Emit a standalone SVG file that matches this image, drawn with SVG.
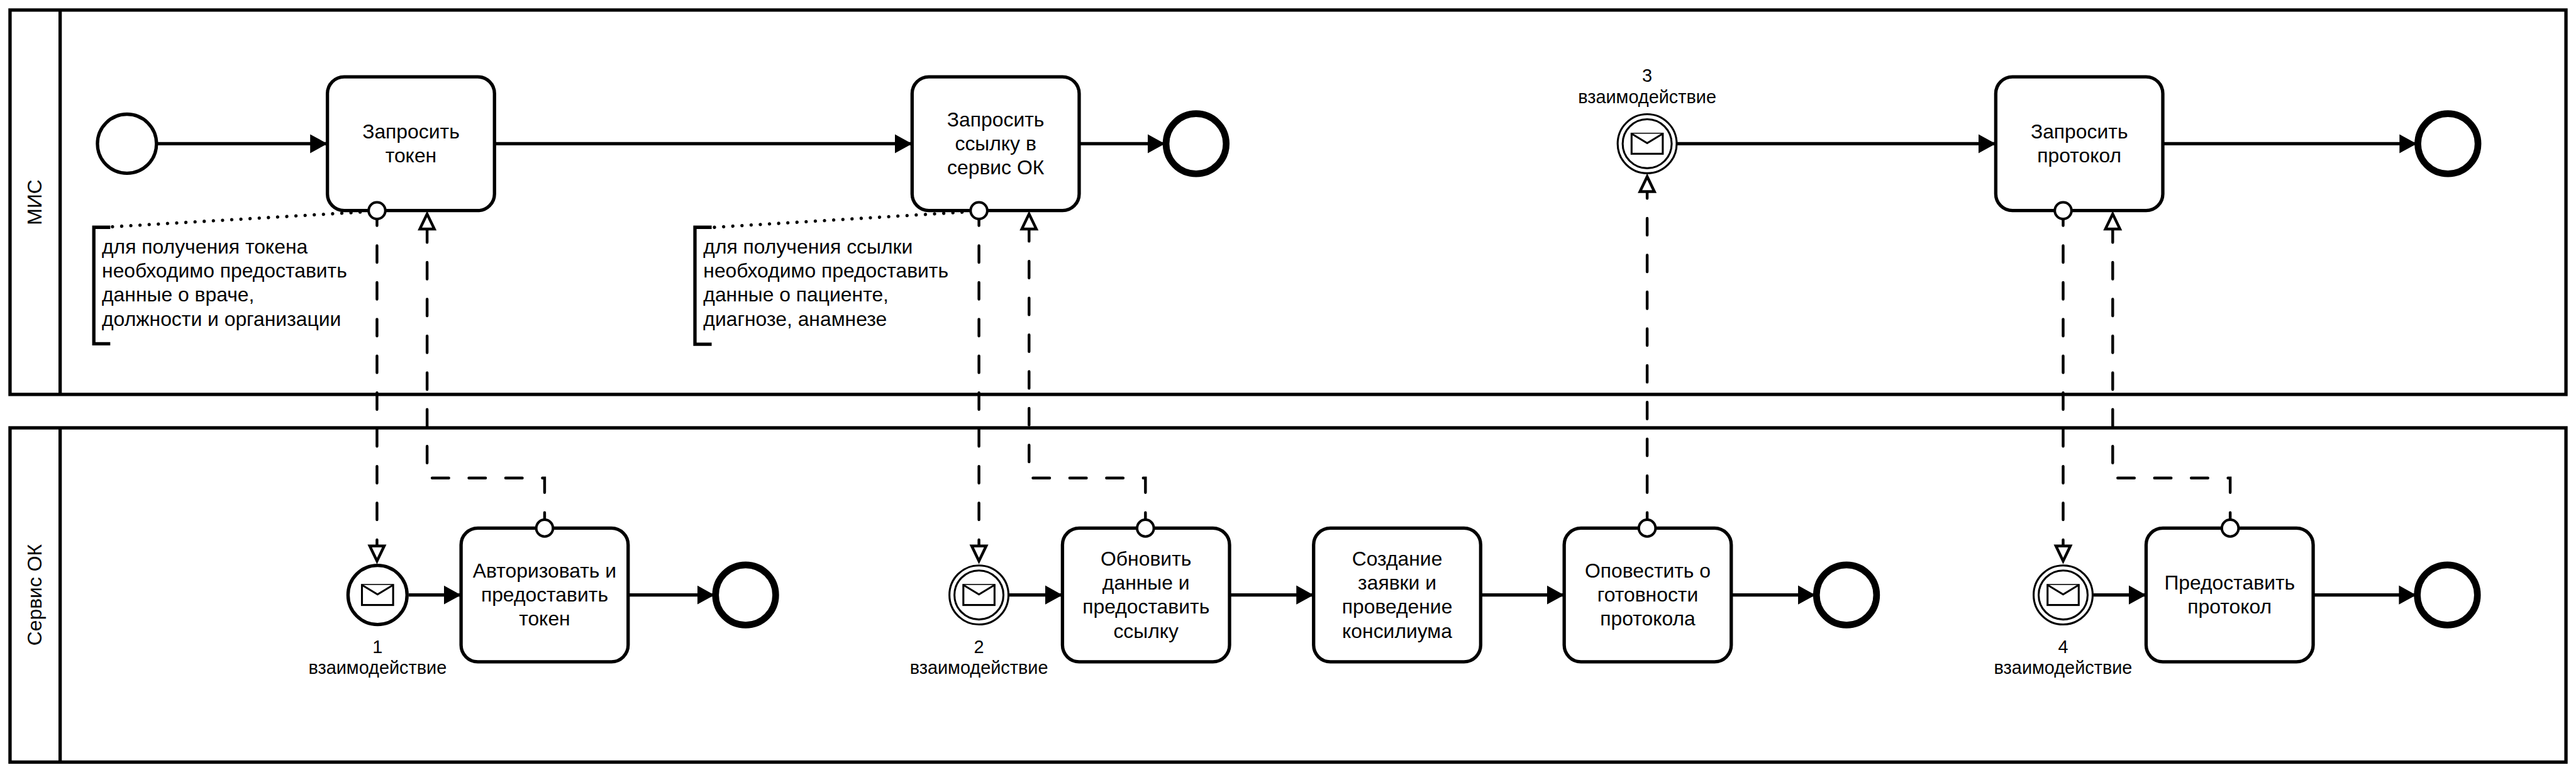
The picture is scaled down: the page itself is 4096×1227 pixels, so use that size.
<svg xmlns="http://www.w3.org/2000/svg" width="4096" height="1227" viewBox="0 0 4096 1227">
<style>
text{font-family:"Liberation Sans",Arial,sans-serif;font-size:36px;fill:#000;text-anchor:middle}
.l{text-anchor:start}
.lab{font-size:32.6px}
.pool{fill:none;stroke:#000;stroke-width:6}
.task{fill:#fff;stroke:#000;stroke-width:6}
.ev{fill:#fff;stroke:#000;stroke-width:6}
.end{fill:#fff;stroke:#000;stroke-width:12}
.ring{fill:#fff;stroke:#000;stroke-width:3.5}
.env{fill:#fff;stroke:#000;stroke-width:3.5}
.port{fill:#fff;stroke:#000;stroke-width:4.5}
.seq{fill:none;stroke:#000;stroke-width:6;marker-end:url(#solid)}
.msg{fill:none;stroke:#000;stroke-width:5;stroke-linecap:round;stroke-dasharray:30 36;marker-end:url(#open)}
.assoc{fill:none;stroke:#000;stroke-width:6;stroke-linecap:round;stroke-dasharray:0.1 16.4}
.note{fill:none;stroke:#000;stroke-width:6}
</style>
<defs>
<marker id="solid" markerUnits="userSpaceOnUse" markerWidth="40" markerHeight="40" refX="31" refY="20" orient="auto"><path d="M0 3L31 20L0 37Z" fill="#000"/></marker>
<marker id="open" markerUnits="userSpaceOnUse" markerWidth="50" markerHeight="50" refX="36" refY="25" orient="auto"><path d="M4 12L31 25L4 38Z" fill="#fff" stroke="#000" stroke-width="5"/></marker>
<g id="envelope"><rect class="env" x="-28" y="-18" width="56" height="36"/><path class="env" d="M-28 -18L0 -1L28 -18"/></g>
</defs>
<g transform="scale(0.88543)">
<g id="pool-mis"><rect class="pool" x="18" y="18" width="4590" height="690"/><path class="pool" d="M108 18V708"/><text transform="translate(74 363) rotate(-90)">МИС</text></g>
<g id="pool-ok"><rect class="pool" x="18" y="768" width="4590" height="600"/><path class="pool" d="M108 768V1368"/><text transform="translate(74 1068) rotate(-90)">Сервис ОК</text></g>
<g id="connectors">
<path class="seq" d="M282 258H588"/>
<path class="seq" d="M888 258H1638"/>
<path class="seq" d="M1938 258H2092"/>
<path class="seq" d="M3012 258H3584"/>
<path class="seq" d="M3884 258H4340"/>
<path class="seq" d="M734 1068H828"/>
<path class="seq" d="M1128 1068H1283"/>
<path class="seq" d="M1811 1068H1908"/>
<path class="seq" d="M2208 1068H2359"/>
<path class="seq" d="M2659 1068H2809"/>
<path class="seq" d="M3109 1068H3260"/>
<path class="seq" d="M3759 1068H3854"/>
<path class="seq" d="M4154 1068H4339"/>
<path class="msg" d="M677 375V1012"/>
<path class="msg" d="M978 950V858H767V379"/>
<path class="msg" d="M1758 375V1012"/>
<path class="msg" d="M2057 950V858H1848V379"/>
<path class="msg" d="M2958 950V312"/>
<path class="msg" d="M3705 375V1012"/>
<path class="msg" d="M4005 950V858H3794V379"/>
<path class="assoc" d="M202 407L677 379"/>
<path class="assoc" d="M1283 408L1758 379"/>
</g>
<g id="start-1"><circle class="ev" cx="228" cy="258" r="53"/></g>
<g id="task-token"><rect class="task" x="588" y="138" width="300" height="240" rx="30"/><circle class="port" cx="677" cy="378" r="15"/><text x="738" y="248">Запросить</text><text x="738" y="291">токен</text></g>
<g id="note-1"><path class="note" d="M198 408H168.500V617H198"/><text class="l" x="183" y="455">для получения токена</text><text class="l" x="183" y="498">необходимо предоставить</text><text class="l" x="183" y="541">данные о враче,</text><text class="l" x="183" y="585">должности и организации</text></g>
<g id="task-link"><rect class="task" x="1638" y="138" width="300" height="240" rx="30"/><circle class="port" cx="1758" cy="378" r="15"/><text x="1788" y="227">Запросить</text><text x="1788" y="270">ссылку в</text><text x="1788" y="313">сервис ОК</text></g>
<g id="end-1"><circle class="end" cx="2148" cy="258" r="54"/></g>
<g id="note-2"><path class="note" d="M1278 408H1248V618H1278"/><text class="l" x="1263" y="455">для получения ссылки</text><text class="l" x="1263" y="498">необходимо предоставить</text><text class="l" x="1263" y="541">данные о пациенте,</text><text class="l" x="1263" y="585">диагнозе, анамнезе</text></g>
<g id="event-3"><circle class="ring" cx="2958" cy="258" r="53"/><circle class="ring" cx="2958" cy="258" r="44"/><use href="#envelope" x="2958" y="258"/><text class="lab" x="2958" y="147">3</text><text class="lab" x="2958" y="185">взаимодействие</text></g>
<g id="task-protocol"><rect class="task" x="3584" y="138" width="300" height="240" rx="30"/><circle class="port" cx="3705" cy="378" r="15"/><text x="3734" y="248">Запросить</text><text x="3734" y="291">протокол</text></g>
<g id="end-2"><circle class="end" cx="4396" cy="258" r="54"/></g>
<g id="event-1"><circle class="ev" cx="678" cy="1068" r="53"/><use href="#envelope" x="678" y="1068"/><text class="lab" x="678" y="1172">1</text><text class="lab" x="678" y="1210">взаимодействие</text></g>
<g id="task-auth"><rect class="task" x="828" y="948" width="300" height="240" rx="30"/><circle class="port" cx="978" cy="948" r="15"/><text x="978" y="1037">Авторизовать и</text><text x="978" y="1080">предоставить</text><text x="978" y="1123">токен</text></g>
<g id="end-3"><circle class="end" cx="1339" cy="1068" r="54"/></g>
<g id="event-2"><circle class="ring" cx="1758" cy="1068" r="53"/><circle class="ring" cx="1758" cy="1068" r="44"/><use href="#envelope" x="1758" y="1068"/><text class="lab" x="1758" y="1172">2</text><text class="lab" x="1758" y="1210">взаимодействие</text></g>
<g id="task-update"><rect class="task" x="1908" y="948" width="300" height="240" rx="30"/><circle class="port" cx="2057" cy="948" r="15"/><text x="2058" y="1015">Обновить</text><text x="2058" y="1058">данные и</text><text x="2058" y="1101">предоставить</text><text x="2058" y="1145">ссылку</text></g>
<g id="task-create"><rect class="task" x="2359" y="948" width="300" height="240" rx="30"/><text x="2509" y="1015">Создание</text><text x="2509" y="1058">заявки и</text><text x="2509" y="1101">проведение</text><text x="2509" y="1145">консилиума</text></g>
<g id="task-notify"><rect class="task" x="2809" y="948" width="300" height="240" rx="30"/><circle class="port" cx="2958" cy="948" r="15"/><text x="2959" y="1037">Оповестить о</text><text x="2959" y="1080">готовности</text><text x="2959" y="1123">протокола</text></g>
<g id="end-4"><circle class="end" cx="3316" cy="1068" r="54"/></g>
<g id="event-4"><circle class="ring" cx="3705" cy="1068" r="53"/><circle class="ring" cx="3705" cy="1068" r="44"/><use href="#envelope" x="3705" y="1068"/><text class="lab" x="3705" y="1172">4</text><text class="lab" x="3705" y="1210">взаимодействие</text></g>
<g id="task-provide"><rect class="task" x="3854" y="948" width="300" height="240" rx="30"/><circle class="port" cx="4005" cy="948" r="15"/><text x="4004" y="1058">Предоставить</text><text x="4004" y="1101">протокол</text></g>
<g id="end-5"><circle class="end" cx="4395" cy="1068" r="54"/></g>
</g>
</svg>
